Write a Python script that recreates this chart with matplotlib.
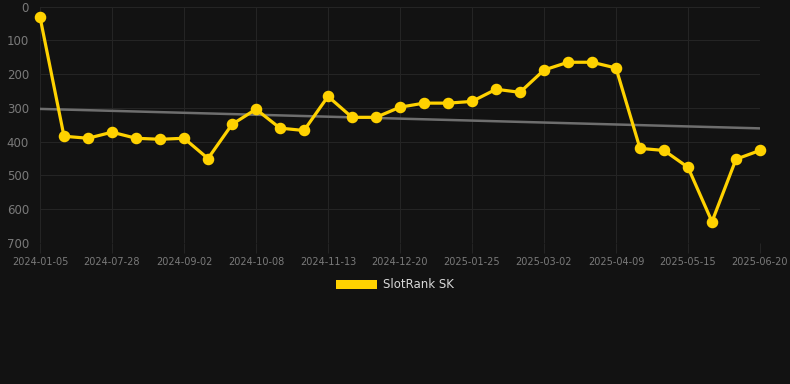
import matplotlib
matplotlib.use('Agg')
import matplotlib.pyplot as plt
import numpy as np

# Colours
BG = '#121212'
GRID = '#242424'
LINE = '#FFD200'
TREND = '#6E6E6E'
TICK = '#7A7A7A'

# Data (rank, lower is better)
dates = ['2024-01-05', '2024-07-04', '2024-07-16', '2024-07-28', '2024-08-09',
         '2024-08-21', '2024-09-02', '2024-09-14', '2024-09-26', '2024-10-08',
         '2024-10-20', '2024-11-01', '2024-11-13', '2024-11-25', '2024-12-07',
         '2024-12-20', '2025-01-01', '2025-01-13', '2025-01-25', '2025-02-06',
         '2025-02-18', '2025-03-02', '2025-03-15', '2025-03-27', '2025-04-09',
         '2025-04-21', '2025-05-03', '2025-05-15', '2025-05-27', '2025-06-08',
         '2025-06-20']
ranks = [31, 384, 390, 372, 390, 393, 390, 450, 349, 304,
         360, 367, 266, 328, 328, 298, 286, 286, 281, 245,
         254, 188, 165, 165, 182, 420, 426, 476, 637, 452, 426]
y_ticks = [0, 100, 200, 300, 400, 500, 600, 700]

fig = plt.figure(figsize=(7.9, 3.84), dpi=100)
fig.patch.set_facecolor(BG)
ax = fig.add_axes([40 / 790, 141 / 384, 720 / 790, 236.5 / 384])
ax.set_facecolor(BG)

x = np.arange(len(ranks))

# trend line from a linear fit of the ranks
slope, icpt = np.polyfit(x, ranks, 1)
ax.plot(x, slope * x + icpt, color=TREND, linewidth=1.8, zorder=2)

ax.plot(x, ranks, color=LINE, linewidth=2.3, marker='o', markersize=7.3,
        zorder=3, label='SlotRank SK', clip_on=False)

ax.set_xlim(0, len(ranks) - 1)
ax.set_ylim(700, 0)
ax.set_yticks(y_ticks)
ax.set_xticks(x[::3])
ax.set_xticklabels(dates[::3])

ax.grid(True, color=GRID, linewidth=0.8)
for s in ax.spines.values():
    s.set_visible(False)
ax.tick_params(axis='y', colors=TICK, labelsize=8.5, length=0, pad=8)
ax.tick_params(axis='x', colors=TICK, labelsize=7, length=7, color=GRID, pad=3)

# legend below the plot
leg = fig.legend(handles=[plt.Rectangle((0, 0), 1, 1, facecolor=LINE)],
                 labels=['SlotRank SK'], loc='center', bbox_to_anchor=(0.5, 1 - 285 / 384),
                 frameon=False, handlelength=3.5, handleheight=0.9, fontsize=8.5,
                 labelcolor='#D8D8D8', handletextpad=0.5)

fig.savefig('out.png', dpi=100, facecolor=BG)
